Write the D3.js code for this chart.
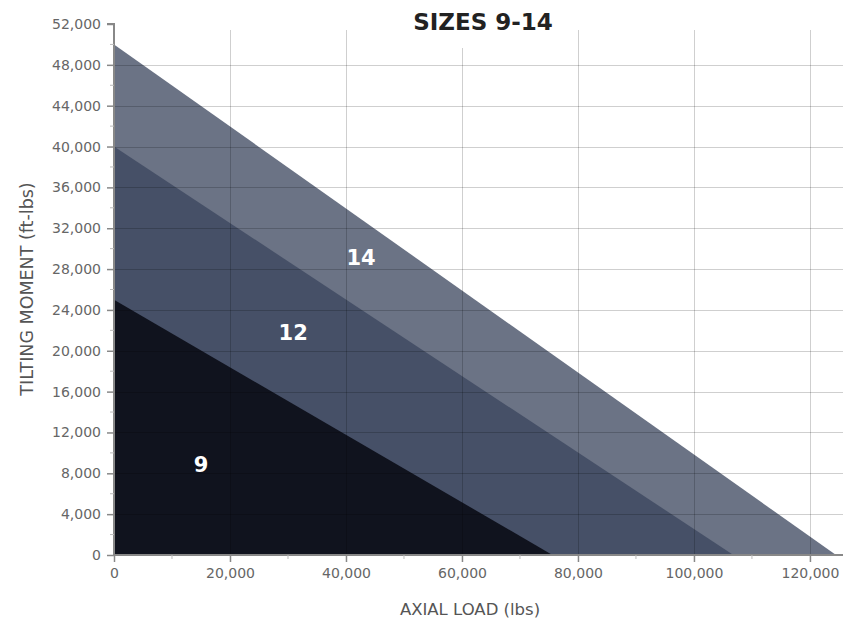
<!DOCTYPE html>
<html>
<head>
<meta charset="utf-8">
<script src="https://cdn.jsdelivr.net/npm/d3@7"></script>
<style>
  html, body { margin: 0; padding: 0; background: #fff; }
  svg { display: block; }
  text { font-family: "DejaVu Sans", sans-serif; }
</style>
</head>
<body>
<svg id="chart" width="843" height="623"></svg>
<script>
// ---- data ----
const sizes = ["14", "12", "9"];
const maxMoment = [50000, 40000, 25000];      // ft-lbs at zero axial load
const maxAxial = [124500, 106800, 75600];     // lbs at zero moment
const fills = ["#6b7385", "#465067", "#10131e"];
const labelX = [42600, 30900, 15000];
const labelY = [29100, 21700, 8800];
const yTicks = d3.range(0, 52001, 4000);
const yMinor = d3.range(2000, 52000, 4000);
const xTicks = d3.range(0, 120001, 20000);
const xMinor = d3.range(10000, 120001, 20000);
const title = "SIZES 9-14";
const xTitle = "AXIAL LOAD (lbs)";
const yTitle = "TILTING MOMENT (ft-lbs)";

// ---- layout ----
const svg = d3.select("#chart");
const x = d3.scaleLinear().domain([0, 125700]).range([114, 843]);
const y = d3.scaleLinear().domain([0, 52000]).range([555, 24]);
const fmt = d3.format(",");

// regions
sizes.forEach((s, i) => {
  svg.append("path")
    .attr("d", d3.line()([[x(0), y(0)], [x(0), y(maxMoment[i])], [x(maxAxial[i]), y(0)]]) + "Z")
    .attr("fill", fills[i]);
});

// gridlines
const grid = svg.append("g").attr("stroke", "rgba(0,0,0,0.19)").attr("stroke-width", 1);
yTicks.filter(v => v > 0 && v < 52000).forEach(v => {
  grid.append("line").attr("x1", x(0)).attr("x2", 843)
    .attr("y1", Math.round(y(v)) + 0.5).attr("y2", Math.round(y(v)) + 0.5);
});
xTicks.filter(v => v > 0).forEach(v => {
  grid.append("line").attr("y1", 30).attr("y2", y(0))
    .attr("x1", Math.round(x(v)) + 0.5).attr("x2", Math.round(x(v)) + 0.5);
});

// title with white backing
const tb = svg.append("g");
tb.append("rect").attr("x", 405).attr("y", 8).attr("width", 156).attr("height", 40).attr("fill", "#fff");
tb.append("text").attr("x", 483).attr("y", 30).attr("text-anchor", "middle")
  .attr("font-size", 23).attr("font-weight", "bold").attr("fill", "#222").text(title);

// labels
sizes.forEach((s, i) => {
  svg.append("text").attr("x", x(labelX[i])).attr("y", y(labelY[i]))
    .attr("text-anchor", "middle").attr("dominant-baseline", "central")
    .attr("font-size", 21).attr("font-weight", "bold").attr("fill", "#fff").text(s);
});

// axes
const axisColor = "#888";
const yAxis = svg.append("g").attr("transform", `translate(${x(0)},0)`)
  .call(d3.axisLeft(y).tickValues(yTicks).tickFormat(fmt).tickSize(7).tickPadding(6));
yAxis.selectAll(".tick line").attr("stroke", axisColor).attr("stroke-width", 1.5);
yAxis.select(".domain").attr("stroke", axisColor).attr("stroke-width", 2).attr("d", `M0,${y(0)}V${y(52000)}H-7`);
yAxis.selectAll("text").attr("font-size", 14).attr("fill", "#666").attr("font-family", "DejaVu Sans, sans-serif");
yMinor.forEach(v => yAxis.append("line").attr("x1", -4).attr("x2", 0).attr("y1", y(v)).attr("y2", y(v)).attr("stroke", "#bbb"));

const xAxis = svg.append("g").attr("transform", `translate(0,${y(0)})`)
  .call(d3.axisBottom(x).tickValues(xTicks).tickFormat(fmt).tickSize(7).tickPadding(6));
xAxis.selectAll(".tick line").attr("stroke", axisColor).attr("stroke-width", 1.5);
xAxis.select(".domain").attr("stroke", axisColor).attr("stroke-width", 2).attr("d", `M${x(0)},0H843`);
xAxis.selectAll("text").attr("font-size", 14).attr("fill", "#666").attr("font-family", "DejaVu Sans, sans-serif");
xMinor.forEach(v => xAxis.append("line").attr("x1", x(v)).attr("x2", x(v)).attr("y1", 0).attr("y2", 4).attr("stroke", "#bbb"));

// axis titles
svg.append("text").attr("x", 470).attr("y", 609).attr("text-anchor", "middle")
  .attr("dominant-baseline", "central").attr("font-size", 16.5).attr("fill", "#555").text(xTitle);
svg.append("text").attr("transform", "translate(27,289) rotate(-90)").attr("text-anchor", "middle")
  .attr("dominant-baseline", "central").attr("font-size", 17.5).attr("fill", "#555").text(yTitle);
</script>
</body>
</html>
